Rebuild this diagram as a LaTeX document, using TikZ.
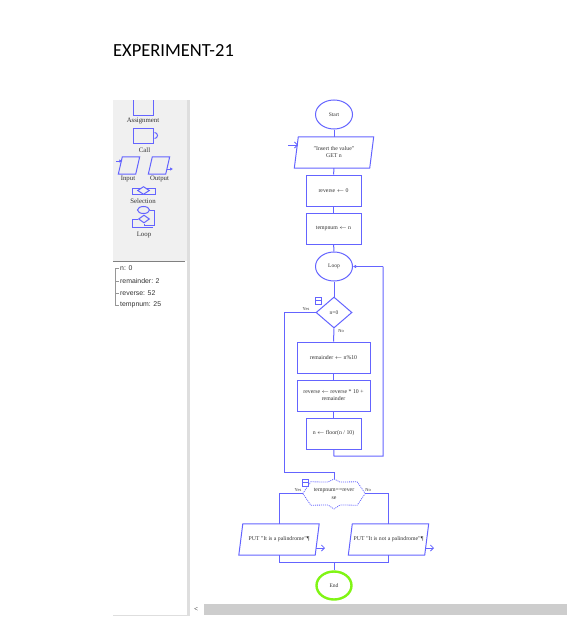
\documentclass[tikz,border=0pt]{standalone}
\usepackage{fontspec}
\setmainfont{Liberation Serif}
\newfontfamily\titlefont{Carlito}
\newfontfamily\varfont{Liberation Sans}
\usepackage{tikz}
\usetikzlibrary{arrows.meta,shapes.geometric}
\definecolor{fcblue}{RGB}{100,100,255}
\definecolor{fcgreen}{RGB}{128,245,20}
\definecolor{panelgrey}{RGB}{240,240,240}
\definecolor{bargrey}{RGB}{205,205,205}
\definecolor{edgegrey}{RGB}{222,222,222}
\definecolor{txtgrey}{RGB}{50,50,50}
\definecolor{treegrey}{RGB}{150,150,150}
\tikzset{
  termnode/.style={ellipse,draw=fcblue,line width=1pt,minimum width=37pt,minimum height=29pt,inner sep=0pt,fill=white,text=txtgrey,font=\fontsize{5.5}{6.5}\selectfont},
  stepnode/.style={rectangle,draw=fcblue,line width=1pt,minimum height=31pt,inner sep=1pt,align=center,fill=white,text=txtgrey,font=\fontsize{5.8}{7}\selectfont},
  ionode/.style={rectangle,minimum height=31pt,inner sep=0pt,align=center,text=txtgrey,font=\fontsize{5.8}{7}\selectfont},
  testnode/.style={diamond,draw=fcblue,line width=1pt,minimum width=36pt,minimum height=31pt,inner sep=0pt,fill=white,text=txtgrey,font=\fontsize{5.5}{6.5}\selectfont},
  hexnode/.style={rectangle,minimum width=62pt,minimum height=23pt,inner sep=0pt,align=center,text=txtgrey,font=\fontsize{5.8}{8}\selectfont},
  smalllabel/.style={inner sep=0pt,text=txtgrey,font=\fontsize{4.5}{5}\selectfont},
  palabel/.style={inner sep=0pt,text=txtgrey,font=\fontsize{6.8}{7}\selectfont},
  varlabel/.style={inner sep=0pt,anchor=west,text=txtgrey,font=\varfont\fontsize{6.9}{8}\selectfont},
  fcline/.style={draw=fcblue,line width=1pt},
  fcarrow/.style={-{Straight Barb[length=3pt,width=6pt]},draw=fcblue,line width=0.8pt},
  fcfill/.style={-{Latex[length=3pt,width=3.5pt]},draw=fcblue,line width=1pt},
  palette/.style={draw=fcblue,line width=1pt}
}
% slanted outline round a plain text node
\newcommand{\ioshape}[1]{
  \draw[fcline] ([xshift=2pt]#1.north west) -- ([xshift=2pt]#1.north east)
    -- ([xshift=-2pt]#1.south east) -- ([xshift=-2pt]#1.south west) -- cycle;
}
\begin{document}
\begin{tikzpicture}[x=1pt,y=-1pt]
  \useasboundingbox (0,0) rectangle (567,618);
  \node[inner sep=0pt,anchor=west,font=\titlefont\fontsize{18.5}{20}\selectfont] (title) at (113,50) {EXPERIMENT-21};

  % window frame
  \fill[panelgrey] (113,100) rectangle (187,261);
  \fill[edgegrey] (187,100) rectangle (190,615);
  \fill[bargrey] (204,604) rectangle (567,615);
  \draw[gray,line width=0.8pt] (113,261) -- (185,261);
  \draw[edgegrey,line width=0.8pt] (113,615) -- (190,615);
  \node[inner sep=0pt,font=\fontsize{7}{8}\selectfont] (scrollleft) at (196,609) {<};

  % palette
  \draw[palette] (133,100) -- (133,115) -- (153,115) -- (153,100);
  \node[palabel] (lbassign) at (143,121) {Assignment};
  \node[draw=fcblue,line width=1pt,minimum width=20pt,minimum height=15pt,inner sep=0pt] (callbox) at (143,135.5) {};
  \draw[palette] (callbox.east) ++(1,-3) arc (90:-90:3pt);
  \node[palabel] (lbcall) at (144.5,150) {Call};
  \node[minimum width=17pt,minimum height=17pt,inner sep=0pt] (inbox) at (129,165.5) {};
  \node[minimum width=17pt,minimum height=17pt,inner sep=0pt] (outbox) at (159,165.5) {};
  \draw[palette] ([xshift=2pt]inbox.north west) -- ([xshift=2pt]inbox.north east) -- ([xshift=-2pt]inbox.south east) -- ([xshift=-2pt]inbox.south west) -- cycle;
  \draw[palette] ([xshift=2pt]outbox.north west) -- ([xshift=2pt]outbox.north east) -- ([xshift=-2pt]outbox.south east) -- ([xshift=-2pt]outbox.south west) -- cycle;
  \coordinate (inarrow) at (116,161);
  \coordinate (outarrow) at (173,169);
  \draw[fcfill,line width=0.8pt] (inarrow) -- ([yshift=4.5pt,xshift=2pt]inbox.west);
  \draw[fcfill,line width=0.8pt] ([yshift=-3.5pt,xshift=-1pt]outbox.east) -- (outarrow);
  \node[palabel] (lbinput) at (128,179) {Input};
  \node[palabel] (lboutput) at (159.5,179) {Output};
  \node[draw=fcblue,line width=1pt,minimum width=23pt,minimum height=6pt,inner sep=0pt] (selbox) at (143.5,191.5) {};
  \node[diamond,draw=fcblue,line width=1pt,fill=panelgrey,minimum width=12pt,minimum height=8pt,inner sep=0pt] (seltest) at (143.5,190.5) {};
  \node[palabel] (lbsel) at (143,201) {Selection};
  \node[ellipse,draw=fcblue,line width=1pt,minimum width=12pt,minimum height=7pt,inner sep=0pt] (looptop) at (143.5,210) {};
  \node[diamond,draw=fcblue,line width=1pt,minimum width=11pt,minimum height=8pt,inner sep=0pt] (looptest) at (144,219) {};
  \draw[palette] (looptop.east) -- (154,210) -- (154,225) -- (144,225) -- (looptest.south);
  \draw[palette] (looptest.west) -- (132,219) -- (132,227) -- (153,227);
  \node[palabel] (lbloop) at (144,235) {Loop};

  % variables
  \draw[treegrey,line width=0.5pt] (119,268) -- (115,268) -- (115,305) -- (119,305);
  \draw[treegrey,line width=0.5pt] (115,281) -- (119,281);
  \draw[treegrey,line width=0.5pt] (115,293) -- (119,293);
  \node[varlabel] (varn) at (120,268) {n: 0};
  \node[varlabel] (varrem) at (120,281) {remainder: 2};
  \node[varlabel] (varrev) at (120,293) {reverse: 52};
  \node[varlabel] (vartemp) at (120,305) {tempnum: 25};

  % flowchart nodes
  \node[termnode] (start) at (334,114.5) {Start};
  \node[ionode,minimum width=75pt] (get) at (334,152.5) {"Insert the value"\\GET n};
  \ioshape{get}
  \node[stepnode,minimum width=55pt] (rev0) at (333.5,190.5) {reverse $\leftarrow$ 0};
  \node[stepnode,minimum width=55pt] (temp) at (333.5,228.5) {tempnum $\leftarrow$ n};
  \node[termnode] (loop) at (334,266.5) {Loop};
  \node[testnode] (test) at (334,312.5) {n=0};
  \node[stepnode,minimum width=73pt] (rem) at (333.5,357.5) {remainder $\leftarrow$ n\%10};
  \node[stepnode,minimum width=73pt] (revn) at (333.5,395.5) {reverse $\leftarrow$ reverse * 10 +\\remainder};
  \node[stepnode,minimum width=55pt] (floor) at (333.5,433.5) {n $\leftarrow$ floor(n / 10)};
  \node[hexnode] (pal) at (334,493.5) {tempnum==rever\\se};
  \node[ionode,minimum width=76pt] (puty) at (279,539.5) {PUT "It is a palindrome"¶};
  \ioshape{puty}
  \node[ionode,minimum width=76pt] (putn) at (388.5,539.5) {PUT "It is not a palindrome"¶};
  \ioshape{putn}
  \node[termnode,draw=fcgreen,line width=2.4pt,minimum width=35pt,minimum height=28pt] (stop) at (334,585.5) {End};

  % hexagon outline with notches
  \draw[fcline,densely dotted,line width=0.8pt] (pal.west) -- ([xshift=8pt]pal.north west) -- (328,482) -- (334,479) -- (340,482) -- ([xshift=-8pt]pal.north east) -- (pal.east) -- ([xshift=-8pt]pal.south east) -- (340,505) -- (334,509) -- (328,505) -- ([xshift=8pt]pal.south west) -- (pal.west);

  % helper points
  \coordinate (loopback) at (383,456);
  \coordinate (loopup) at (383,266.5);
  \coordinate (floorjoin) at (334,456);
  \coordinate (yesleft) at (284,312.5);
  \coordinate (yesdown) at (284,472);
  \coordinate (paljoin) at (334,472);
  \coordinate (leftturn) at (279,493.5);
  \coordinate (rightturn) at (388,493.5);
  \coordinate (mergeleft) at (279,562);
  \coordinate (mergeright) at (388,562);
  \coordinate (mergemid) at (334,562);

  % connectors
  \draw[fcline] (start) -- (get);
  \draw[fcline] (get) -- (rev0);
  \draw[fcline] (rev0) -- (temp);
  \draw[fcline] (temp) -- (loop);
  \draw[fcline] (loop) -- (test);
  \draw[fcline] (test) -- (rem);
  \draw[fcline] (rem) -- (revn);
  \draw[fcline] (revn) -- (floor);
  \draw[fcline] (floor) -- (floorjoin) -- (loopback) -- (loopup);
  \draw[fcfill] (loopup) -- (loop);
  \draw[fcline] (test) -- (yesleft) -- (yesdown) -- (paljoin) -- (334,479);
  \draw[fcline] (pal.west) -- (leftturn) -- (leftturn |- puty.north);
  \draw[fcline] (pal.east) -- (rightturn) -- (rightturn |- putn.north);
  \draw[fcline] (leftturn |- puty.south) -- (mergeleft) -- (mergeright) -- (rightturn |- putn.south);
  \draw[fcline] (mergemid) -- (stop);

  % io arrows
  \coordinate (getin) at (288,145);
  \coordinate (yesout) at (325,548);
  \coordinate (noout) at (434,548);
  \draw[fcarrow] (getin) -- (298,145);
  \draw[fcarrow] (316,548) -- (yesout);
  \draw[fcarrow] (425,548) -- (noout);

  % small collapse boxes
  \node[draw=fcblue,line width=0.8pt,minimum width=6pt,minimum height=7pt,inner sep=0pt] (boxa) at (318.5,300.5) {};
  \draw[fcline,line width=0.8pt] (boxa.west) -- (boxa.east);
  \node[draw=fcblue,line width=0.8pt,minimum width=6pt,minimum height=7pt,inner sep=0pt] (boxb) at (305.5,482.5) {};
  \draw[fcline,line width=0.8pt] (boxb.west) -- (boxb.east);

  % branch labels
  \node[smalllabel] (yesa) at (306,309) {Yes};
  \node[smalllabel] (noa) at (341,331) {No};
  \node[smalllabel] (yesb) at (298,490) {Yes};
  \node[smalllabel] (nob) at (368,490) {No};
\end{tikzpicture}
\end{document}
